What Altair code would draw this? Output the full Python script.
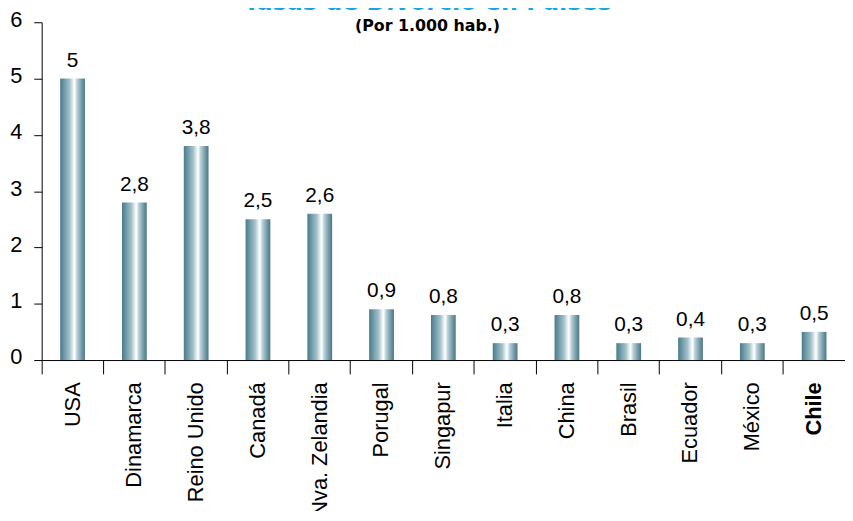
import altair as alt
import pandas as pd

paises = ["USA", "Dinamarca", "Reino Unido", "Canadá", "Nva. Zelandia", "Porugal",
          "Singapur", "Italia", "China", "Brasil", "Ecuador", "México", "Chile"]
tasas = [5, 2.8, 3.8, 2.5, 2.6, 0.9, 0.8, 0.3, 0.8, 0.3, 0.4, 0.3, 0.5]
etiquetas = [f"{v:g}".replace(".", ",") for v in tasas]
y_ticks = [0, 1, 2, 3, 4, 5, 6]

df = pd.DataFrame({"pais": paises, "tasa": tasas, "etiqueta": etiquetas})

grad = alt.Gradient(
    gradient="linear",
    x1=0, x2=1, y1=0, y2=0,
    stops=[
        alt.GradientStop(color="#4b7a8a", offset=0),
        alt.GradientStop(color="#6b98a6", offset=0.15),
        alt.GradientStop(color="#a3c1ca", offset=0.38),
        alt.GradientStop(color="#e8f0f2", offset=0.52),
        alt.GradientStop(color="#ffffff", offset=0.58),
        alt.GradientStop(color="#b9d0d7", offset=0.68),
        alt.GradientStop(color="#7ca2ae", offset=0.84),
        alt.GradientStop(color="#4a7787", offset=1),
    ],
)

x_enc = alt.X(
    "pais:N",
    sort=paises,
    scale=alt.Scale(paddingInner=0, paddingOuter=0),
    axis=alt.Axis(
        title=None,
        labelAngle=-90,
        labelAlign="right",
        labelBaseline="middle",
        labelFont="Liberation Sans",
        labelFontSize=22,
        labelColor="black",
        labelPadding=8,
        labelLimit=300,
        labelFontWeight=alt.condition("datum.value === 'Chile'", alt.value("bold"), alt.value("normal")),
        tickSize=14,
        tickColor="black",
        tickWidth=1,
        domainColor="black",
        domainWidth=1,
        bandPosition=0,
        grid=False,
    ),
)

y_enc = alt.Y(
    "tasa:Q",
    scale=alt.Scale(domain=[0, 6], nice=False),
    axis=alt.Axis(
        title=None,
        values=y_ticks,
        format="d",
        labelFont="Liberation Sans",
        labelFontSize=22,
        labelColor="black",
        labelPadding=12,
        labelBaseline="middle",
        labelOffset=-3,
        tickSize=8,
        tickColor="black",
        domainColor="black",
        grid=False,
    ),
)

bars = alt.Chart(df).mark_bar(size=25, color=grad).encode(x=x_enc, y=y_enc)

text = alt.Chart(df).mark_text(
    baseline="alphabetic", dy=-12, font="Liberation Sans", fontSize=21, color="black"
).encode(x=alt.X("pais:N", sort=paises), y="tasa:Q", text="etiqueta:N")

chart = (
    alt.layer(bars, text)
    .properties(
        width=811,
        height=341,
        padding={"left": 34, "top": 12, "right": 0, "bottom": 150},
        autosize=alt.AutoSizeParams(type="none"),
        title=alt.TitleParams(
            text="Tasas de Divorcio en Países",
            subtitle="(Por 1.000 hab.)",
            font="DejaVu Sans",
            fontSize=24,
            fontWeight="bold",
            color="#14A5E6",
            subtitleFont="DejaVu Sans",
            subtitleFontSize=16,
            subtitleFontWeight="bold",
            subtitleColor="black",
            subtitlePadding=3,
            anchor="middle",
            offset=-26,
            dx=-16,
        ),
    )
    .configure_view(stroke=None)
)

chart.save("out.html", embed_options={"renderer": "svg", "actions": False})
